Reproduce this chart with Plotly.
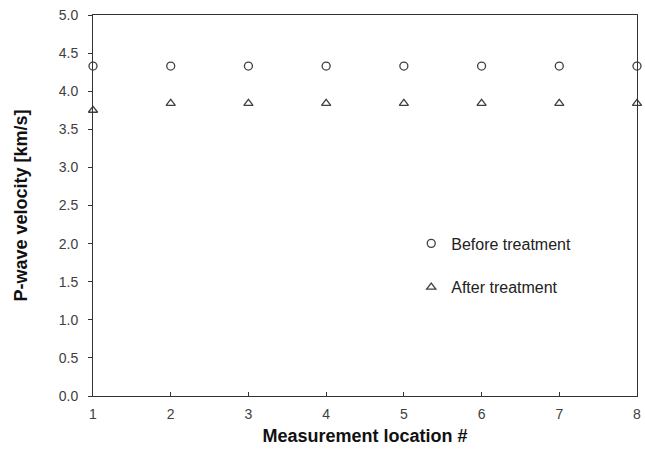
import plotly.graph_objects as go

locations = [1, 2, 3, 4, 5, 6, 7, 8]
before = [4.33, 4.33, 4.33, 4.33, 4.33, 4.33, 4.33, 4.33]
after = [3.75, 3.84, 3.84, 3.84, 3.84, 3.84, 3.84, 3.84]
y_ticks = [0.0, 0.5, 1.0, 1.5, 2.0, 2.5, 3.0, 3.5, 4.0, 4.5, 5.0]

col = "#404040"
fig = go.Figure()
fig.add_trace(go.Scatter(x=locations, y=before, mode="markers", name="Before treatment",
                         legendgroup="a", cliponaxis=False,
                         marker=dict(symbol="circle-open", size=8, color=col, line=dict(width=1.3))))
fig.add_trace(go.Scatter(x=locations, y=after, mode="markers", name="After treatment",
                         legendgroup="b", cliponaxis=False,
                         marker=dict(symbol="triangle-up-open", size=8, color=col, line=dict(width=1.3))))

fig.update_layout(
    width=645, height=455,
    margin=dict(l=93, r=4, t=15, b=59),
    paper_bgcolor="white", plot_bgcolor="white",
    font=dict(family="Liberation Sans, Arial, sans-serif", color="#404040", size=14),
    showlegend=True,
    legend=dict(x=0.585, y=0.445, xanchor="left", yanchor="top", itemwidth=30,
                traceorder="grouped", tracegroupgap=20,
                font=dict(size=16, color="#222222"), bgcolor="rgba(0,0,0,0)"),
    xaxis=dict(range=[1, 8], tickvals=locations, ticks="inside", ticklen=4,
               tickcolor="#333", showline=True, linecolor="#333", linewidth=1, mirror=True,
               showgrid=False, zeroline=False, tickfont=dict(size=14), ticklabelstandoff=5,
               ticklabeloverflow="allow",
               title=dict(text="<b>Measurement location #</b>", font=dict(size=18, color="#111"), standoff=8)),
    yaxis=dict(range=[0, 5], tickvals=y_ticks, tickformat=".1f", ticks="outside", ticklen=4,
               tickcolor="#333", showline=True, linecolor="#333", linewidth=1, mirror=True,
               showgrid=False, zeroline=False, tickfont=dict(size=14), ticklabelstandoff=7,
               ticklabeloverflow="allow",
               title=dict(text="<b>P-wave velocity [km/s]</b>", font=dict(size=18, color="#111"), standoff=26)),
)
fig.write_html("out.html")
